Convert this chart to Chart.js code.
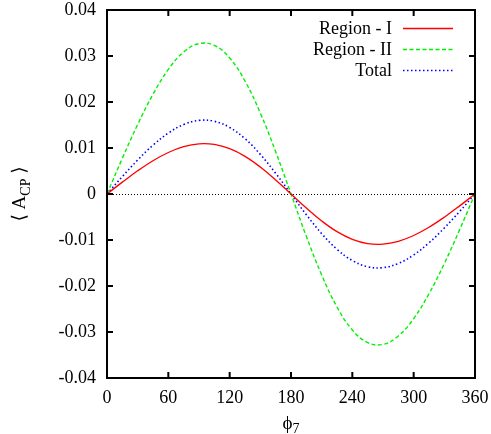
<!DOCTYPE html>
<html>
<head>
<meta charset="utf-8">
<script src="https://cdn.jsdelivr.net/npm/chart.js@4.4.0/dist/chart.umd.min.js"></script>
<style>
  html, body { margin: 0; padding: 0; background: #fff; }
  #wrap { width: 491px; height: 434px; position: relative; }
</style>
</head>
<body>
<div id="wrap"><canvas id="chart" width="491" height="434"></canvas></div>
<script>
// ── Data ────────────────────────────────────────────────
const phi = [0, 15, 30, 45, 60, 75, 90, 105, 120, 135, 150, 165, 180,
             195, 210, 225, 240, 255, 270, 285, 300, 315, 330, 345, 360];

const regionI = [0, 0.00258, 0.00504, 0.00723, 0.00902, 0.01029, 0.0109, 0.01077, 0.00985, 0.00819, 0.00586, 0.00306, 0,
                 -0.00306, -0.00586, -0.00819, -0.00985, -0.01077, -0.0109, -0.01029, -0.00902, -0.00723, -0.00504, -0.00258, 0];

const regionII = [0, 0.00775, 0.01511, 0.02168, 0.02708, 0.03087, 0.0327, 0.03231, 0.02956, 0.02456, 0.01759, 0.00919, 0,
                  -0.00919, -0.01759, -0.02456, -0.02956, -0.03231, -0.0327, -0.03087, -0.02708, -0.02168, -0.01511, -0.00775, 0];

const total = [0, 0.00379, 0.00739, 0.01061, 0.01325, 0.0151, 0.016, 0.01581, 0.01446, 0.01202, 0.00861, 0.0045, 0,
               -0.0045, -0.00861, -0.01202, -0.01446, -0.01581, -0.016, -0.0151, -0.01325, -0.01061, -0.00739, -0.00379, 0];

const xTicks = [0, 60, 120, 180, 240, 300, 360];
const yTicks = [-0.04, -0.03, -0.02, -0.01, 0, 0.01, 0.02, 0.03, 0.04];

const FONT = "'Liberation Serif', 'DejaVu Serif', serif";

const pts = (ys) => phi.map((x, i) => ({ x, y: ys[i] }));

// ── gnuplot-style frame, inward ticks, zero line, axis titles, legend ──
const gnuplotDecor = {
  id: 'gnuplotDecor',
  beforeDatasetsDraw(chart) {
    const { ctx, chartArea: a, scales } = chart;
    const y0 = scales.y.getPixelForValue(0);
    ctx.save();
    ctx.strokeStyle = '#000';
    ctx.lineWidth = 1;
    ctx.setLineDash([1, 2]);
    ctx.beginPath();
    ctx.moveTo(a.left, y0 + 0.5);
    ctx.lineTo(a.right, y0 + 0.5);
    ctx.stroke();
    ctx.restore();
  },
  afterDraw(chart) {
    const { ctx, chartArea: a, scales } = chart;
    ctx.save();
    ctx.strokeStyle = '#000';
    ctx.lineWidth = 2;
    ctx.setLineDash([]);
    ctx.strokeRect(a.left, a.top, a.right - a.left, a.bottom - a.top);

    const tl = 6;
    ctx.beginPath();
    xTicks.forEach((v) => {
      const px = scales.x.getPixelForValue(v);
      ctx.moveTo(px, a.bottom); ctx.lineTo(px, a.bottom - tl);
      ctx.moveTo(px, a.top); ctx.lineTo(px, a.top + tl);
    });
    yTicks.forEach((v) => {
      const py = scales.y.getPixelForValue(v);
      ctx.moveTo(a.left, py); ctx.lineTo(a.left + tl, py);
      ctx.moveTo(a.right, py); ctx.lineTo(a.right - tl, py);
    });
    ctx.stroke();

    // x title: phi_7
    ctx.fillStyle = '#000';
    ctx.textBaseline = 'alphabetic';
    ctx.font = `19px ${FONT}`;
    const xc = (a.left + a.right) / 2;
    const wPhi = ctx.measureText('ϕ').width;
    ctx.font = `14px ${FONT}`;
    const w7 = ctx.measureText('7').width;
    let sx = xc - (wPhi + w7) / 2;
    ctx.font = `19px ${FONT}`;
    ctx.fillText('ϕ', sx, 429);
    ctx.font = `14px ${FONT}`;
    ctx.fillText('7', sx + wPhi, 433);

    // y title: < A_CP >
    ctx.save();
    ctx.translate(25, (a.top + a.bottom) / 2);
    ctx.rotate(-Math.PI / 2);
    const parts = [
      { t: '⟨ A', f: 19, dy: 0 },
      { t: 'CP', f: 14, dy: 5 },
      { t: ' ⟩', f: 19, dy: 0 },
    ];
    let tw = 0;
    parts.forEach((p) => { ctx.font = `${p.f}px ${FONT}`; p.w = ctx.measureText(p.t).width; tw += p.w; });
    let cx = -tw / 2;
    parts.forEach((p) => {
      ctx.font = `${p.f}px ${FONT}`;
      ctx.fillText(p.t, cx, p.dy);
      cx += p.w;
    });
    ctx.restore();

    // legend (text left, sample right)
    const rows = [28, 49, 70];
    ctx.font = `18px ${FONT}`;
    ctx.textAlign = 'right';
    ctx.textBaseline = 'middle';
    chart.data.datasets.forEach((ds, i) => {
      const ry = rows[i];
      ctx.fillStyle = '#000';
      ctx.fillText(ds.label, 392, ry + 1);
      ctx.strokeStyle = ds.borderColor;
      ctx.lineWidth = ds.borderWidth;
      ctx.setLineDash(ds.borderDash || []);
      ctx.beginPath();
      ctx.moveTo(403, ry + 0.5);
      ctx.lineTo(453, ry + 0.5);
      ctx.stroke();
    });
    ctx.restore();
  },
};

new Chart(document.getElementById('chart').getContext('2d'), {
  type: 'line',
  data: {
    datasets: [
      { label: 'Region - I', data: pts(regionI), borderColor: '#ff0000', borderWidth: 1.3, borderDash: [] },
      { label: 'Region - II', data: pts(regionII), borderColor: '#00f000', borderWidth: 1.4, borderDash: [4, 2.5] },
      { label: 'Total', data: pts(total), borderColor: '#0000ff', borderWidth: 1.6, borderDash: [1.5, 2.5] },
    ],
  },
  options: {
    responsive: false,
    animation: false,
    devicePixelRatio: 1,
    layout: { autoPadding: false, padding: { top: 10, right: 16, left: 0, bottom: 0 } },
    elements: { point: { radius: 0 }, line: { tension: 0.4, fill: false } },
    plugins: { legend: { display: false }, tooltip: { enabled: false } },
    scales: {
      x: {
        type: 'linear', min: 0, max: 360,
        afterFit: (s) => { s.height = 56; s.paddingLeft = 0; s.paddingRight = 0; },
        afterBuildTicks: (s) => { s.ticks = xTicks.map((v) => ({ value: v })); },
        ticks: { color: '#000', font: { family: FONT, size: 18 }, padding: 9, maxRotation: 0 },
        grid: { display: false, drawTicks: false, tickLength: 0 },
        border: { display: false },
      },
      y: {
        type: 'linear', min: -0.04, max: 0.04,
        afterFit: (s) => { s.width = 107; s.paddingTop = 0; s.paddingBottom = 0; },
        afterBuildTicks: (s) => { s.ticks = yTicks.map((v) => ({ value: v })); },
        ticks: { color: '#000', font: { family: FONT, size: 18 }, padding: 11,
                 callback: (v) => (Math.abs(v) < 1e-9 ? '0' : String(+v.toFixed(2))) },
        grid: { display: false, drawTicks: false, tickLength: 0 },
        border: { display: false },
      },
    },
  },
  plugins: [gnuplotDecor],
});
</script>
</body>
</html>
